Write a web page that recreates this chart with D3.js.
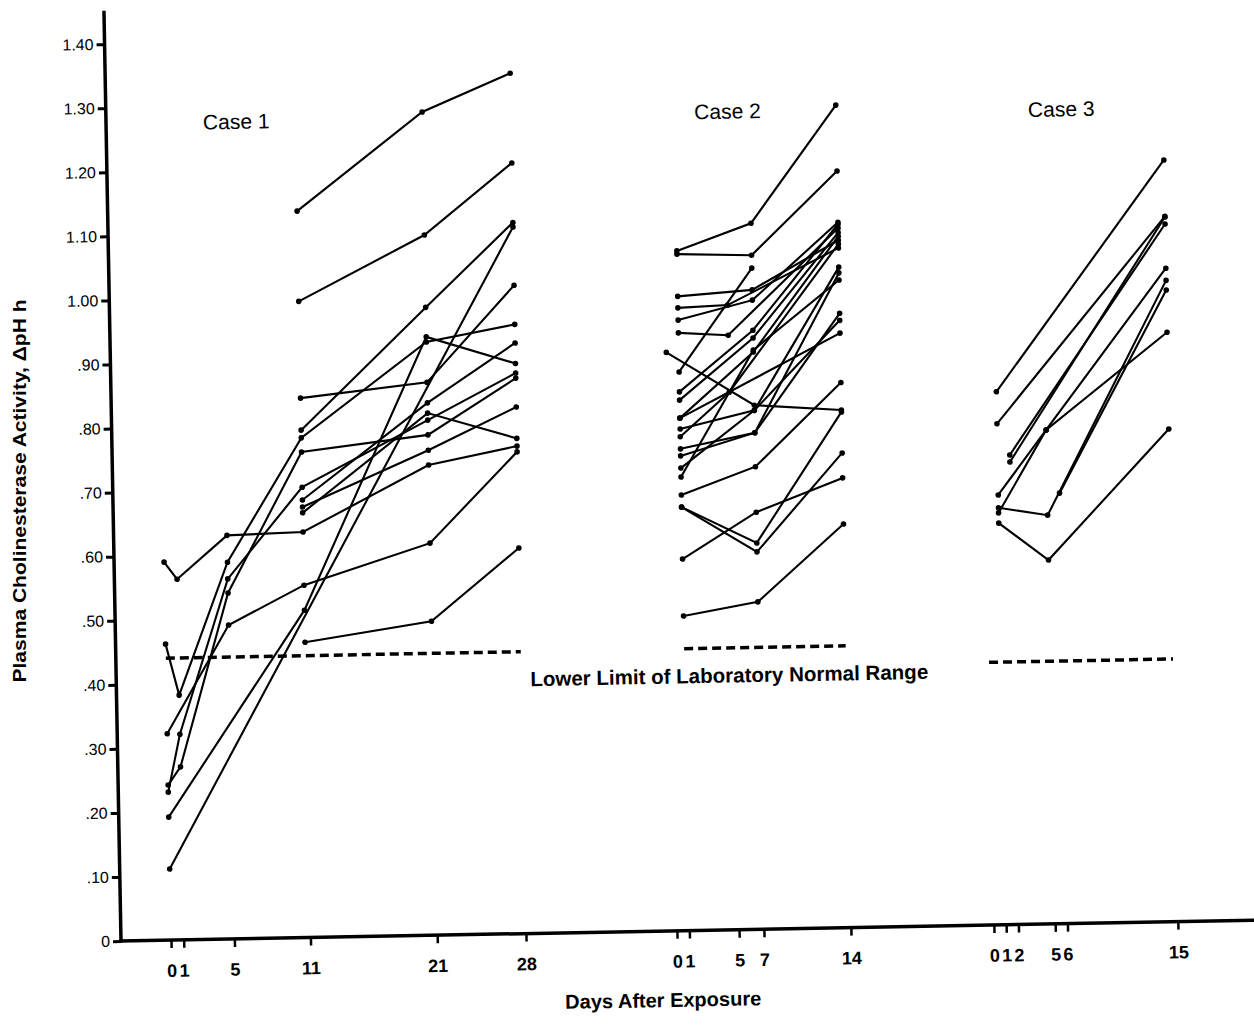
<!DOCTYPE html>
<html>
<head>
<meta charset="utf-8">
<script src="https://cdn.jsdelivr.net/npm/d3@7"></script>
<style>
  body { margin: 0; background: #fff; }
  text { font-family: "Liberation Sans", Arial, Helvetica, sans-serif; fill: #000; }
</style>
</head>
<body>
<svg id="chart" width="1254" height="1025"></svg>
<script>
// days on the x axis for each case
const case1Ticks = [0, 1, 5, 11, 21, 28];
const case2Ticks = [0, 1, 5, 7, 14];
const case3Ticks = [0, 1, 2, 5, 6, 15];
const yTicks = d3.range(0, 1.41, 0.1);

// one array per subject: [day, delta pH/h]
const case1 = [
  [[11, 1.134], [21, 1.285], [28, 1.343]],
  [[11, 0.993], [21, 1.093], [28, 1.203]],
  [[0, 0.111], [28, 1.103]],
  [[0, 0.192], [11, 0.511], [21, 0.934], [28, 0.890]],
  [[11, 0.792], [21, 0.980], [28, 1.110]],
  [[11, 0.461], [21, 0.490], [28, 0.602]],
  [[0, 0.322], [5, 0.490], [11, 0.550], [21, 0.612], [28, 0.752]],
  [[11, 0.842], [21, 0.863], [28, 1.012]],
  [[0, 0.590], [1, 0.563], [5, 0.630], [11, 0.633], [21, 0.734], [28, 0.761]],
  [[0, 0.462], [1, 0.382], [5, 0.588], [11, 0.780], [21, 0.926], [28, 0.951]],
  [[0, 0.242], [1, 0.270], [5, 0.540], [11, 0.758], [21, 0.781], [28, 0.867]],
  [[0, 0.231], [1, 0.321], [5, 0.562], [11, 0.703], [21, 0.804], [28, 0.875]],
  [[11, 0.683], [21, 0.831], [28, 0.922]],
  [[11, 0.672], [21, 0.757], [28, 0.822]],
  [[11, 0.663], [21, 0.815], [28, 0.773]]
];

const case2 = [
  [[1, 1.061], [7, 1.102], [14, 1.284]],
  [[1, 1.056], [7, 1.052], [14, 1.181]],
  [[1, 0.872], [7, 1.032]],
  [[1, 0.990], [7, 0.998], [14, 1.073]],
  [[1, 0.972], [5, 0.975], [14, 1.061]],
  [[1, 0.953], [7, 0.982], [14, 1.101]],
  [[1, 0.933], [5, 0.928], [14, 1.092]],
  [[0, 0.903], [7, 0.818], [14, 0.808]],
  [[1, 0.841], [7, 0.935], [14, 1.098]],
  [[1, 0.828], [7, 0.923], [14, 1.085]],
  [[1, 0.800], [7, 0.901], [14, 1.079]],
  [[1, 0.783], [7, 0.810], [14, 1.031]],
  [[1, 0.771], [5, 0.839], [14, 1.067]],
  [[1, 0.752], [7, 0.775], [14, 0.959]],
  [[1, 0.741], [7, 0.775], [14, 1.022]],
  [[1, 0.722], [7, 0.810], [14, 0.948]],
  [[1, 0.708], [7, 0.904], [14, 1.011]],
  [[1, 0.680], [7, 0.722], [14, 0.851]],
  [[1, 0.661], [7, 0.603], [14, 0.805]],
  [[1, 0.661], [7, 0.589], [14, 0.741]],
  [[1, 0.580], [7, 0.651], [14, 0.702]],
  [[1, 0.491], [7, 0.511], [14, 0.630]],
  [[1, 0.800], [14, 0.928]]
];

const case3 = [
  [[1, 0.832], [15, 1.189]],
  [[1, 0.782], [15, 1.101]],
  [[2, 0.733], [15, 1.089]],
  [[2, 0.722], [15, 1.100]],
  [[1, 0.671], [5, 0.771], [15, 1.020]],
  [[1, 0.643], [5, 0.771], [15, 0.920]],
  [[1, 0.651], [5, 0.638], [15, 1.001]],
  [[6, 0.672], [15, 0.986]],
  [[1, 0.627], [5, 0.568], [15, 0.769]]
];

// lower limit of the laboratory normal range, per case
const lowerLimit = [0.44, 0.44, 0.41];
const limitSpan = [[0, 28], [1, 14], [0, 15]];
const caseNames = ['Case 1', 'Case 2', 'Case 3'];

const svg = d3.select('#chart');
svg.append('rect').attr('width', 1254).attr('height', 1025).attr('fill', '#fff');

// the scanned page sits slightly tilted
const g = svg.append('g').attr('transform', 'translate(121,941) rotate(-1.05)');

const y = d3.scaleLinear().domain([0, 1.4]).range([0, -897]);
const xs = [
  d3.scaleLinear().domain([0, 28]).range([50, 405]),
  d3.scaleLinear().domain([0, 14]).range([556, 730]),
  d3.scaleLinear().domain([0, 15]).range([873, 1057])
];
const ticks = [case1Ticks, case2Ticks, case3Ticks];
const data = [case1, case2, case3];

// y axis
const fmt = v => v < 0.001 ? '0' : (v >= 0.995 ? v.toFixed(2) : v.toFixed(2).slice(1));
const yAxis = g.append('g')
  .call(d3.axisLeft(y).tickValues(yTicks).tickSize(8).tickPadding(3).tickFormat(fmt));
yAxis.select('.domain').remove();
yAxis.selectAll('.tick line').attr('stroke', '#000').attr('stroke-width', 3);
yAxis.selectAll('.tick text').style('font-size', '16px');
g.append('line')
  .attr('x1', 0).attr('x2', 0)
  .attr('y1', 1.5).attr('y2', y(1.452))
  .attr('stroke', '#000').attr('stroke-width', 3.5);

// x axis
g.append('line')
  .attr('x1', -1.5).attr('x2', 1150)
  .attr('y1', 0).attr('y2', 0)
  .attr('stroke', '#000').attr('stroke-width', 3.5);

xs.forEach((sc, i) => {
  const ax = g.append('g')
    .call(d3.axisBottom(sc).tickValues(ticks[i]).tickSize(8).tickPadding(16).tickFormat(d3.format('d')));
  ax.select('.domain').remove();
  ax.selectAll('.tick line').attr('stroke', '#000').attr('stroke-width', 2.5);
  ax.selectAll('.tick text').style('font-size', '18px').style('font-weight', 'bold');
});

g.append('text')
  .attr('x', 541).attr('y', 76)
  .attr('text-anchor', 'middle')
  .style('font-size', '20px').style('font-weight', 'bold')
  .text('Days After Exposure');

svg.append('text')
  .attr('transform', 'translate(26,491) rotate(-90)')
  .attr('text-anchor', 'middle')
  .style('font-size', '19px').style('font-weight', 'bold')
  .attr('textLength', 383).attr('lengthAdjust', 'spacingAndGlyphs')
  .text('Plasma Cholinesterase Activity, \u0394pH h');

// subjects
const line = d3.line();
data.forEach((subjects, i) => {
  const sc = xs[i];
  const cg = g.append('g');
  subjects.forEach(s => {
    cg.append('path')
      .attr('d', line(s.map(d => [sc(d[0]), y(d[1])])))
      .attr('fill', 'none')
      .attr('stroke', '#000')
      .attr('stroke-width', 2.1);
    cg.selectAll(null).data(s).enter().append('circle')
      .attr('cx', d => sc(d[0]))
      .attr('cy', d => y(d[1]))
      .attr('r', 2.8)
      .attr('fill', '#000');
  });

  // dashed lower limit
  g.append('line')
    .attr('x1', sc(limitSpan[i][0])).attr('x2', sc(limitSpan[i][1]))
    .attr('y1', y(lowerLimit[i])).attr('y2', y(lowerLimit[i]))
    .attr('stroke', '#000').attr('stroke-width', 3.5)
    .attr('stroke-dasharray', '9,5');
});

// case titles
const titleDay = [3.7, 2.6, 4.0];
const titleVal = [1.264, 1.266, 1.26];
caseNames.forEach((n, i) => {
  g.append('text')
    .attr('x', xs[i](titleDay[i])).attr('y', y(titleVal[i]))
    .style('font-size', '21px')
    .text(n);
});

g.append('text')
  .attr('x', 414).attr('y', y(0.386))
  .style('font-size', '20.5px').style('font-weight', 'bold')
  .attr('textLength', 398).attr('lengthAdjust', 'spacingAndGlyphs')
  .text('Lower Limit of Laboratory Normal Range');
</script>
</body>
</html>
